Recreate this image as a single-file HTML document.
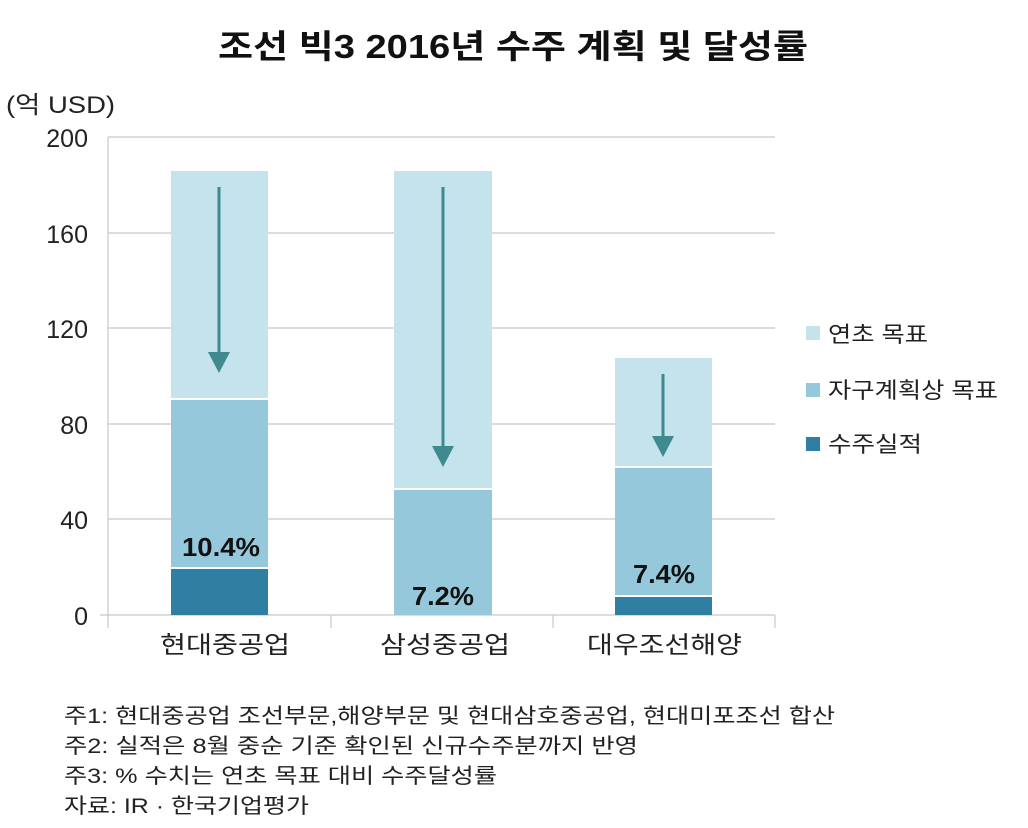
<!DOCTYPE html>
<html><head><meta charset="utf-8"><style>
body{margin:0;background:#fff;}
svg text{font-family:"Liberation Sans","Noto Sans CJK KR",sans-serif;}
</style></head><body>
<svg width="1028" height="823" xmlns="http://www.w3.org/2000/svg">
<rect width="1028" height="823" fill="#fff"/>
<text x="218" y="58" font-size="33" font-weight="bold" fill="#111" textLength="590" lengthAdjust="spacingAndGlyphs">조선 빅3 2016년 수주 계획 및 달성률</text>
<text x="6" y="113" font-size="24" fill="#222" textLength="109" lengthAdjust="spacingAndGlyphs">(억 USD)</text>
<g stroke="#c8c8c8" stroke-width="1.2">
<line x1="108" y1="137" x2="775" y2="137"/>
<line x1="108" y1="233" x2="775" y2="233"/>
<line x1="108" y1="328" x2="775" y2="328"/>
<line x1="108" y1="424" x2="775" y2="424"/>
<line x1="108" y1="519" x2="775" y2="519"/>
<line x1="108" y1="137" x2="108" y2="628"/>
<line x1="100" y1="615" x2="775" y2="615"/>
<line x1="331" y1="615" x2="331" y2="628"/>
<line x1="553" y1="615" x2="553" y2="628"/>
<line x1="775" y1="615" x2="775" y2="628"/>
</g>
<g font-size="25" fill="#222" text-anchor="end">
<text x="88" y="147">200</text><text x="88" y="243">160</text><text x="88" y="338">120</text>
<text x="88" y="434">80</text><text x="88" y="529">40</text><text x="88" y="625">0</text>
</g>
<rect x="171" y="171" width="97" height="227" fill="#c5e3ed"/>
<rect x="171" y="400" width="97" height="167" fill="#96c8dc"/>
<rect x="171" y="569" width="97" height="46" fill="#2f7fa2"/>
<rect x="394" y="171" width="98" height="317" fill="#c5e3ed"/>
<rect x="394" y="490" width="98" height="125" fill="#96c8dc"/>
<rect x="615" y="358" width="97" height="108" fill="#c5e3ed"/>
<rect x="615" y="468" width="97" height="127" fill="#96c8dc"/>
<rect x="615" y="597" width="97" height="18" fill="#2f7fa2"/>
<g stroke="#3e8a8f" stroke-width="3" fill="#3e8a8f">
<line x1="219" y1="187" x2="219" y2="358"/>
<polygon points="208,352 230,352 219,373" stroke="none"/>
<line x1="443" y1="187" x2="443" y2="452"/>
<polygon points="432,446 454,446 443,467" stroke="none"/>
<line x1="663" y1="374" x2="663" y2="442"/>
<polygon points="652,436 674,436 663,457" stroke="none"/>
</g>
<g font-size="26" font-weight="bold" fill="#111">
<text x="182" y="556" textLength="78" lengthAdjust="spacingAndGlyphs">10.4%</text>
<text x="412" y="605" textLength="62" lengthAdjust="spacingAndGlyphs">7.2%</text>
<text x="633" y="583" textLength="62" lengthAdjust="spacingAndGlyphs">7.4%</text>
</g>
<g font-size="24" fill="#222">
<text x="160" y="653" textLength="130" lengthAdjust="spacingAndGlyphs">현대중공업</text>
<text x="380" y="653" textLength="130" lengthAdjust="spacingAndGlyphs">삼성중공업</text>
<text x="587" y="653" textLength="155" lengthAdjust="spacingAndGlyphs">대우조선해양</text>
</g>
<rect x="806" y="326" width="14" height="14" fill="#c5e3ed"/>
<rect x="806" y="383" width="14" height="14" fill="#96c8dc"/>
<rect x="806" y="437" width="14" height="14" fill="#2f7fa2"/>
<g font-size="22" fill="#222">
<text x="828" y="342" textLength="100" lengthAdjust="spacingAndGlyphs">연초 목표</text>
<text x="828" y="398" textLength="170" lengthAdjust="spacingAndGlyphs">자구계획상 목표</text>
<text x="828" y="452" textLength="94" lengthAdjust="spacingAndGlyphs">수주실적</text>
</g>
<g font-size="21" fill="#222">
<text x="64" y="723" textLength="771" lengthAdjust="spacingAndGlyphs">주1: 현대중공업 조선부문,해양부문 및 현대삼호중공업, 현대미포조선 합산</text>
<text x="64" y="753" textLength="574" lengthAdjust="spacingAndGlyphs">주2: 실적은 8월 중순 기준 확인된 신규수주분까지 반영</text>
<text x="64" y="783" textLength="433" lengthAdjust="spacingAndGlyphs">주3: % 수치는 연초 목표 대비 수주달성률</text>
<text x="64" y="813" textLength="245" lengthAdjust="spacingAndGlyphs">자료: IR · 한국기업평가</text>
</g>
</svg>
</body></html>
